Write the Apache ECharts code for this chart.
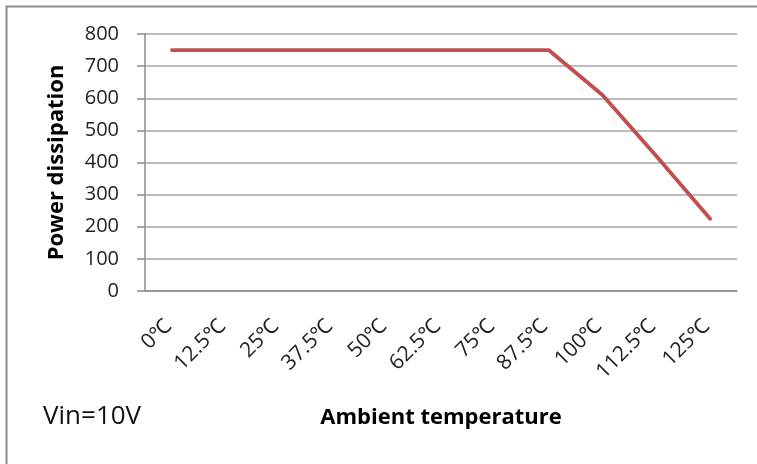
<!DOCTYPE html>
<html>
<head>
<meta charset="utf-8">
<script src="https://cdn.jsdelivr.net/npm/echarts@6/dist/echarts.min.js"></script>
<style>
html,body{margin:0;padding:0;background:#fff;}
#chart{width:757px;height:464px;}
</style>
</head>
<body>
<div id="chart"></div>
<script>
const categories = ['0℃','12.5℃','25℃','37.5℃','50℃','62.5℃','75℃','87.5℃','100℃','112.5℃','125℃'];
const powerValues = [750,750,750,750,750,750,750,750,610,420,225];
const yAxisName = 'Power dissipation';
const xAxisName = 'Ambient temperature';
const noteText = 'Vin=10V';

const FONT = 'Open Sans';
const chart = echarts.init(document.getElementById('chart'), null, {renderer:'canvas'});
chart.setOption({
  animation:false,
  backgroundColor:'#fff',
  grid:{left:145,right:20,top:34,bottom:173,containLabel:false},
  xAxis:{
    type:'category',
    data:categories,
    boundaryGap:true,
    name:xAxisName,
    nameLocation:'middle',
    nameGap:116,
    nameTextStyle:{fontFamily:FONT,fontWeight:'bold',fontSize:22,color:'#000'},
    axisLine:{show:true,lineStyle:{color:'#8c8c8c',width:1.5}},
    axisTick:{show:false},
    axisLabel:{rotate:45,fontFamily:FONT,fontSize:21,color:'#222',margin:28,interval:0,padding:[0,5,0,0]}
  },
  yAxis:{
    type:'value',
    min:0,max:800,interval:100,
    name:yAxisName,
    nameLocation:'middle',
    nameGap:77,
    nameTextStyle:{fontFamily:FONT,fontWeight:'bold',fontSize:22,color:'#000'},
    axisLine:{show:true,lineStyle:{color:'#8c8c8c',width:1.5}},
    axisTick:{show:true,length:8,lineStyle:{color:'#8c8c8c',width:1.5}},
    axisLabel:{fontFamily:FONT,fontSize:20,color:'#222',margin:26},
    splitLine:{show:true,lineStyle:{color:'#a6a6a6',width:1.5}}
  },
  series:[{
    type:'line',
    data:powerValues,
    symbol:'none',
    lineStyle:{color:'#c0504d',width:3.8,cap:'round',join:'round'},
    itemStyle:{color:'#c0504d'}
  }],
  graphic:[
    {type:'rect',left:4,top:4,shape:{width:800,height:500},style:{fill:'none',stroke:'#8c8c8c',lineWidth:2},silent:true,z:-1},
    {type:'text',left:43,top:404,style:{text:noteText,fontFamily:FONT,fontSize:26,fill:'#111'}}
  ]
});
</script>
</body>
</html>
